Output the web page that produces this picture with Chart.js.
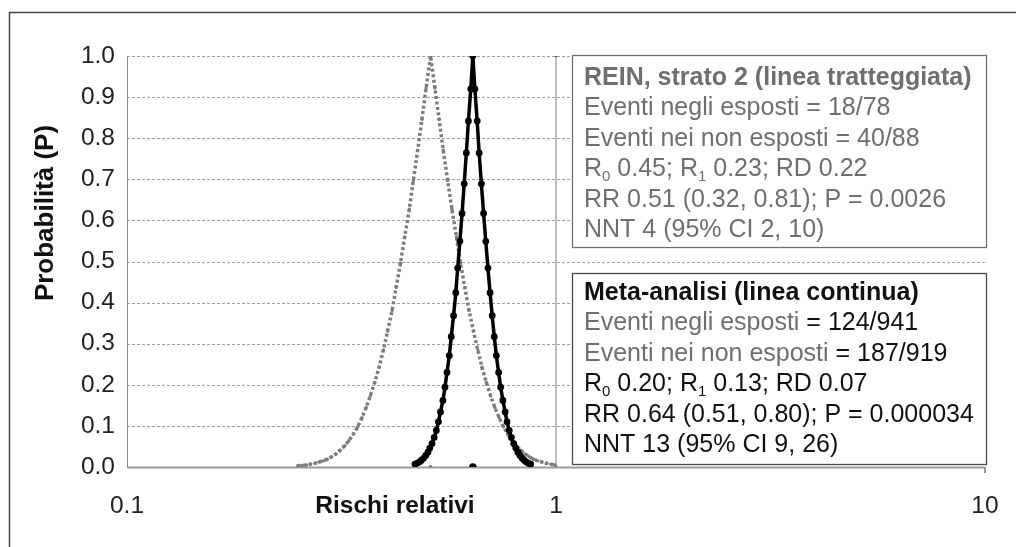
<!DOCTYPE html>
<html>
<head>
<meta charset="utf-8">
<title>Rischi relativi</title>
<script src="https://cdn.jsdelivr.net/npm/chart.js@4.4.1/dist/chart.umd.min.js"></script>
<style>
    html, body { margin: 0; padding: 0; background: #fff; }
</style>
</head>
<body>
<canvas id="chart" width="1016" height="547"></canvas>
<script>
// Meta-analisi (linea continua): rischio relativo / probabilita
const metaRR = [0.469, 0.474, 0.480, 0.485, 0.491, 0.497, 0.503, 0.508, 0.514, 0.520,
                0.526, 0.532, 0.538, 0.545, 0.551, 0.557, 0.564, 0.570, 0.577, 0.584,
                0.590, 0.597, 0.604, 0.611, 0.618, 0.625, 0.633, 0.640, 0.647, 0.655,
                0.662, 0.670, 0.678, 0.686, 0.694, 0.702, 0.710, 0.718, 0.726, 0.735,
                0.743, 0.752, 0.761, 0.769, 0.778, 0.787, 0.797, 0.806, 0.815, 0.824,
                0.834, 0.844, 0.853, 0.863, 0.873];
const metaP = [0.007, 0.009, 0.012, 0.016, 0.021, 0.028, 0.036, 0.046, 0.057, 0.072,
               0.089, 0.110, 0.134, 0.162, 0.194, 0.230, 0.271, 0.317, 0.368, 0.424,
               0.484, 0.549, 0.617, 0.689, 0.764, 0.842, 0.920, 1.000, 0.920, 0.842,
               0.764, 0.689, 0.617, 0.549, 0.484, 0.424, 0.368, 0.317, 0.271, 0.230,
               0.194, 0.162, 0.134, 0.110, 0.089, 0.072, 0.057, 0.046, 0.036, 0.028,
               0.021, 0.016, 0.012, 0.009, 0.007];

// REIN, strato 2 (linea tratteggiata)
const reinRR = [0.250, 0.256, 0.262, 0.268, 0.274, 0.280, 0.287, 0.293, 0.300, 0.307,
                0.314, 0.322, 0.329, 0.337, 0.345, 0.353, 0.361, 0.369, 0.378, 0.387,
                0.396, 0.405, 0.415, 0.424, 0.434, 0.444, 0.455, 0.465, 0.476, 0.487,
                0.498, 0.510, 0.522, 0.534, 0.546, 0.559, 0.572, 0.586, 0.599, 0.613,
                0.627, 0.642, 0.657, 0.672, 0.688, 0.704, 0.720, 0.737, 0.754, 0.772,
                0.790, 0.808, 0.827, 0.846, 0.866, 0.886, 0.907, 0.928, 0.950, 0.972,
                0.994];
const reinP = [0.003, 0.004, 0.005, 0.007, 0.009, 0.012, 0.015, 0.019, 0.025, 0.032,
               0.041, 0.052, 0.064, 0.080, 0.098, 0.120, 0.145, 0.173, 0.206, 0.243,
               0.285, 0.331, 0.381, 0.437, 0.496, 0.560, 0.627, 0.697, 0.771, 0.846,
               0.922, 1.000, 0.922, 0.846, 0.771, 0.697, 0.627, 0.560, 0.496, 0.437,
               0.381, 0.331, 0.285, 0.243, 0.206, 0.173, 0.145, 0.120, 0.098, 0.080,
               0.064, 0.052, 0.041, 0.032, 0.025, 0.019, 0.015, 0.012, 0.009, 0.007,
               0.005];

// stime puntuali sull'asse e linea di nessun effetto (RR = 1)
const metaEstRR = [0.64];
const reinEstRR = [0.51];
const nullRR = [1, 1];
const nullP = [0, 1];

// assi
const xTicks = [0.1, 1, 10];
const xTickLabels = ['0.1', '1', '10'];
const yTicks = [0, 0.1, 0.2, 0.3, 0.4, 0.5, 0.6, 0.7, 0.8, 0.9, 1.0];
const xTitle = 'Rischi relativi';
const yTitle = 'Probabilità (P)';

const GRAY = '#6f6f6f';
const BLACK = '#111111';
const FONT = '"Liberation Sans", Arial, sans-serif';

// riquadri di testo: [testo, colore, stile] ('b' = grassetto, 's' = pedice)
const reinBox = [
    [['REIN, strato 2 (linea tratteggiata)', GRAY, 'b']],
    [['Eventi negli esposti = 18/78', GRAY]],
    [['Eventi nei non esposti = 40/88', GRAY]],
    [['R', GRAY], ['0', GRAY, 's'], [' 0.45; R', GRAY], ['1', GRAY, 's'], [' 0.23; RD 0.22', GRAY]],
    [['RR 0.51 (0.32, 0.81); P = 0.0026', GRAY]],
    [['NNT 4 (95% CI 2, 10)', GRAY]]
];
const metaBox = [
    [['Meta-analisi (linea continua)', BLACK, 'b']],
    [['Eventi negli esposti', GRAY], [' = 124/941', BLACK]],
    [['Eventi nei non esposti', GRAY], [' = 187/919', BLACK]],
    [['R', BLACK], ['0', BLACK, 's'], [' 0.20; R', BLACK], ['1', BLACK, 's'], [' 0.13; RD 0.07', BLACK]],
    [['RR 0.64 (0.51, 0.80); P = 0.000034', BLACK]],
    [['NNT 13 (95% CI 9, 26)', BLACK]]
];

function toPoints(xs, ys) {
    return xs.map((v, i) => ({x: v, y: ys[i]}));
}

function drawLines(ctx, lines, x, y0, step) {
    lines.forEach((segs, i) => {
        let cx = x;
        let by = y0 + i * step;
        segs.forEach(([t, col, st]) => {
            let sub = (st === 's');
            ctx.font = (st === 'b' ? 'bold ' : '') + (sub ? 15 : 25) + 'px ' + FONT;
            ctx.fillStyle = col;
            ctx.fillText(t, cx, sub ? by + 5 : by);
            cx += ctx.measureText(t).width;
        });
    });
}

function drawBox(ctx, left, top, w, h, border, lines, firstBaseline, step) {
    ctx.fillStyle = '#ffffff';
    ctx.fillRect(left, top, w, h);
    ctx.strokeStyle = border;
    ctx.lineWidth = 1.3;
    ctx.strokeRect(left + 0.5, top + 0.5, w, h);
    ctx.textAlign = 'left';
    ctx.textBaseline = 'alphabetic';
    drawLines(ctx, lines, left + 12, firstBaseline, step);
}

const decor = {
    id: 'decor',
    beforeDraw(chart) {
        const ctx = chart.ctx;
        ctx.save();
        ctx.fillStyle = '#ffffff';
        ctx.fillRect(0, 0, chart.width, chart.height);
        // cornice esterna
        ctx.strokeStyle = '#444444';
        ctx.lineWidth = 1.5;
        ctx.beginPath();
        ctx.moveTo(9.5, chart.height);
        ctx.lineTo(9.5, 12.5);
        ctx.lineTo(chart.width, 12.5);
        ctx.stroke();
        ctx.restore();
    },
    beforeDatasetsDraw(chart) {
        const ctx = chart.ctx;
        const a = chart.chartArea;
        const y = chart.scales.y;
        ctx.save();
        // griglia tratteggiata
        ctx.strokeStyle = '#a0a0a0';
        ctx.lineWidth = 1;
        ctx.setLineDash([3, 2]);
        yTicks.forEach(v => {
            if (v === 0) return;
            let py = Math.round(y.getPixelForValue(v)) + 0.5;
            ctx.beginPath();
            ctx.moveTo(a.left, py);
            ctx.lineTo(a.right, py);
            ctx.stroke();
        });
        ctx.setLineDash([]);
        // asse verticale
        ctx.strokeStyle = '#8a8a8a';
        ctx.beginPath();
        ctx.moveTo(a.left + 0.5, a.top);
        ctx.lineTo(a.left + 0.5, a.bottom);
        ctx.stroke();
        // asse orizzontale
        ctx.strokeStyle = '#9c9c9c';
        ctx.lineWidth = 2;
        ctx.beginPath();
        ctx.moveTo(a.left, a.bottom + 0.5);
        ctx.lineTo(a.right, a.bottom + 0.5);
        ctx.moveTo(a.right, a.bottom);
        ctx.lineTo(a.right, a.bottom + 6);
        ctx.stroke();
        ctx.restore();
    },
    afterDatasetsDraw(chart) {
        const ctx = chart.ctx;
        ctx.save();
        drawBox(ctx, 572, 55, 414, 192, '#707070', reinBox, 85, 30.4);
        drawBox(ctx, 572, 273, 414, 191, '#4a4a4a', metaBox, 300, 30.4);

        // titolo asse x, sulla riga delle etichette
        ctx.font = 'bold 24.5px ' + FONT;
        ctx.fillStyle = BLACK;
        ctx.textAlign = 'center';
        ctx.textBaseline = 'alphabetic';
        ctx.fillText(xTitle, 395, 513);

        // titolo asse y
        ctx.font = 'bold 26px ' + FONT;
        ctx.translate(53, 213);
        ctx.rotate(-Math.PI / 2);
        ctx.fillText(yTitle, 0, 0);
        ctx.restore();
    }
};

const chart = new Chart(document.getElementById('chart'), {
    type: 'line',
    data: {
        datasets: [
            {
                label: 'Meta-analisi',
                data: toPoints(metaRR, metaP),
                borderColor: '#000000',
                backgroundColor: '#000000',
                borderWidth: 3.5,
                pointRadius: 3.4,
                pointBorderWidth: 0,
                order: 1
            },
            {
                label: 'REIN, strato 2',
                data: toPoints(reinRR, reinP),
                borderColor: '#7c7c7c',
                backgroundColor: '#7c7c7c',
                borderWidth: 3.5,
                borderDash: [3, 2.5],
                pointRadius: 1.7,
                pointBorderWidth: 0,
                order: 2
            },
            {
                label: 'RR = 1',
                data: toPoints(nullRR, nullP),
                borderColor: '#7a7a7a',
                backgroundColor: '#7a7a7a',
                borderWidth: 1,
                pointRadius: 1.8,
                pointBorderWidth: 0,
                order: 3
            },
            {
                label: 'stima meta',
                data: toPoints(metaEstRR, [0]),
                showLine: false,
                backgroundColor: '#000000',
                pointRadius: 3.8,
                pointBorderWidth: 0,
                order: 0
            },
            {
                label: 'stima REIN',
                data: toPoints(reinEstRR, [0]),
                showLine: false,
                backgroundColor: '#7c7c7c',
                pointRadius: 2,
                pointBorderWidth: 0,
                order: 0
            }
        ]
    },
    options: {
        responsive: false,
        animation: false,
        devicePixelRatio: 1,
        layout: { padding: { top: 56, right: 31, left: 0, bottom: 0 } },
        plugins: {
            legend: { display: false },
            tooltip: { enabled: false }
        },
        elements: { line: { tension: 0 } },
        scales: {
            x: {
                type: 'logarithmic',
                min: 0.1,
                max: 10,
                afterBuildTicks: (s) => { s.ticks = xTicks.map(v => ({value: v})); },
                afterFit: (s) => {
                    s.height = 80;
                    // solo meta' etichetta ai lati, senza il padding verticale
                    s.paddingLeft = 14;
                    s.paddingRight = 14;
                },
                grid: { display: false, drawTicks: false },
                border: { display: false },
                ticks: {
                    padding: 25,
                    color: '#222222',
                    maxRotation: 0,
                    autoSkip: false,
                    font: { family: FONT, size: 24.5 },
                    callback: (v, i) => xTickLabels[i]
                }
            },
            y: {
                min: 0,
                max: 1,
                afterBuildTicks: (s) => { s.ticks = yTicks.map(v => ({value: v})); },
                afterFit: (s) => { s.width = 127; },
                grid: { display: false, drawTicks: false },
                border: { display: false },
                ticks: {
                    padding: 12,
                    color: '#222222',
                    font: { family: FONT, size: 24.5 },
                    callback: (v) => Number(v).toFixed(1)
                }
            }
        }
    },
    plugins: [decor]
});
</script>
</body>
</html>
